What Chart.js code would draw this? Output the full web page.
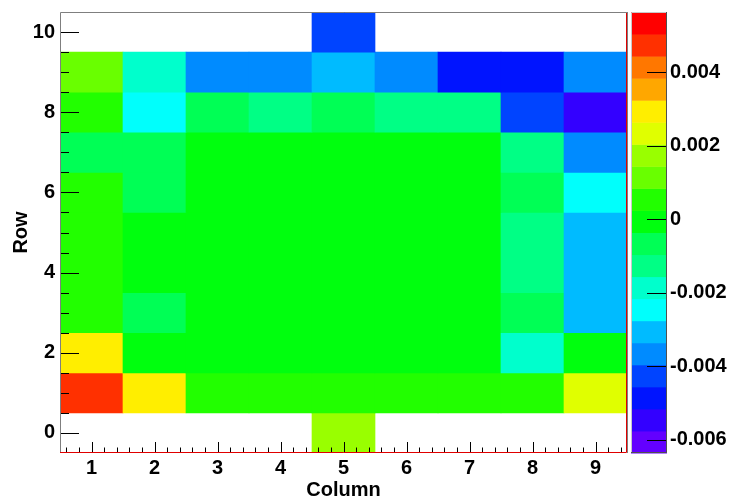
<!DOCTYPE html>
<html>
<head>
<meta charset="utf-8">
<script src="https://cdn.jsdelivr.net/npm/chart.js@4.4.1/dist/chart.umd.min.js"></script>
<style>
  html, body { margin: 0; padding: 0; background: #fff; }
  canvas { display: block; }
</style>
</head>
<body>
<canvas id="heat" width="729" height="500"></canvas>
<script>
// colonnes et lignes de la grille
const columns = [1, 2, 3, 4, 5, 6, 7, 8, 9];
const rows = [0, 1, 2, 3, 4, 5, 6, 7, 8, 9, 10];

// valeur de chaque case, une liste par ligne (null = case vide)
const row0  = [null, null, null, null, 0.0017, null, null, null, null];
const row1  = [0.0047, 0.0029, 0.0005, 0.0005, 0.0005, 0.0005, 0.0005, 0.0005, 0.0023];
const row2  = [0.0029, 0, 0, 0, 0, 0, 0, -0.0019, 0];
const row3  = [0.0005, -0.0007, 0, 0, 0, 0, 0, -0.0007, -0.0031];
const row4  = [0.0005, 0, 0, 0, 0, 0, 0, -0.0013, -0.0031];
const row5  = [0.0005, 0, 0, 0, 0, 0, 0, -0.0013, -0.0031];
const row6  = [0.0005, -0.0007, 0, 0, 0, 0, 0, -0.0007, -0.0025];
const row7  = [-0.0007, -0.0007, 0, 0, 0, 0, 0, -0.0013, -0.0037];
const row8  = [0.0005, -0.0025, -0.0007, -0.0013, -0.0007, -0.0013, -0.0013, -0.0043, -0.0055];
const row9  = [0.0011, -0.0019, -0.0037, -0.0037, -0.0031, -0.0037, -0.0049, -0.0049, -0.0037];
const row10 = [null, null, null, null, -0.0043, null, null, null, null];
const rowValues = [row0, row1, row2, row3, row4, row5, row6, row7, row8, row9, row10];

// graduations des axes
const xTicks = [1, 2, 3, 4, 5, 6, 7, 8, 9];
const yTicks = [0, 2, 4, 6, 8, 10];
const zTicks = [-0.006, -0.004, -0.002, 0, 0.002, 0.004];
const zMin = -0.00636;
const zMax = 0.00564;
const nLevels = 20;

// palette arc-en-ciel (violet -> rouge), 50 teintes dont on prend 20 niveaux
function levelColor(k) {
    const idx = Math.min(49, Math.floor((k + 0.99) * 50 / nLevels));
    const hue = 280 - (idx + 1) * 5.6;
    return 'hsl(' + hue + ', 100%, 50%)';
}
function colorFor(v) {
    let k = Math.floor(0.01 + (v - zMin) * nLevels / (zMax - zMin));
    k = Math.max(0, Math.min(nLevels - 1, k));
    return levelColor(k);
}

// une barre flottante par case non vide
const cells = [];
const cellColors = [];
rows.forEach((r, i) => {
    columns.forEach((c, j) => {
        const v = rowValues[i][j];
        if (v === null) return;
        cells.push({ x: c, y: [r - 0.5, r + 0.5] });
        cellColors.push(colorFor(v));
    });
});

const tickFont = { family: 'Liberation Sans, Arial, sans-serif', size: 20, weight: 'bold', lineHeight: 1 };
const titleFont = { family: 'Liberation Sans, Arial, sans-serif', size: 20, weight: 'bold', lineHeight: 1 };

// pas de marge automatique autour des axes verticaux
function noPad(s) {
    s.paddingTop = 0;
    s.paddingBottom = 0;
}

// cadre, petites graduations et barre de couleurs
const rootFrame = {
    id: 'rootFrame',
    afterDatasetsDraw(chart) {
        const { ctx, chartArea: a, scales: { x, y, z } } = chart;
        const px = v => Math.round(v) + 0.5;
        ctx.save();
        ctx.lineWidth = 1;

        // graduations en x (tous les 0.2)
        ctx.strokeStyle = '#000';
        ctx.beginPath();
        for (let i = 3; i <= 47; i++) {
            const xp = px(x.getPixelForValue(i / 5));
            const len = i % 5 === 0 ? 11 : 5.5;
            ctx.moveTo(xp, a.bottom);
            ctx.lineTo(xp, a.bottom - len);
        }
        // graduations en y (tous les 0.5)
        for (let i = 0; i <= 20; i++) {
            const v = i / 2;
            const yp = px(y.getPixelForValue(v));
            const len = v % 2 === 0 ? 19 : 9;
            ctx.moveTo(a.left, yp);
            ctx.lineTo(a.left + len, yp);
        }
        ctx.stroke();

        // cadre
        ctx.strokeStyle = '#7f7f7f';
        ctx.beginPath();
        ctx.moveTo(a.left + 0.5, a.bottom);
        ctx.lineTo(a.left + 0.5, a.top + 0.5);
        ctx.lineTo(a.right + 1, a.top + 0.5);
        ctx.moveTo(a.right + 0.5, a.top);
        ctx.lineTo(a.right + 0.5, a.bottom);
        ctx.stroke();
        ctx.strokeStyle = '#e00000';
        ctx.beginPath();
        ctx.moveTo(a.left, a.bottom - 0.5);
        ctx.lineTo(a.right - 0.5, a.bottom - 0.5);
        ctx.lineTo(a.right - 0.5, a.top + 1);
        ctx.stroke();

        // barre de couleurs
        const left = z.left + 4, right = z.left + 40;
        const dz = (zMax - zMin) / nLevels;
        for (let k = 0; k < nLevels; k++) {
            const y1 = z.getPixelForValue(zMin + k * dz);
            const y2 = z.getPixelForValue(zMin + (k + 1) * dz);
            ctx.fillStyle = levelColor(k);
            ctx.fillRect(left, y2, right - left, y1 - y2 + 0.5);
        }
        ctx.strokeStyle = '#c8c8c8';
        ctx.beginPath();
        ctx.moveTo(left + 0.5, z.bottom);
        ctx.lineTo(left + 0.5, z.top + 0.5);
        ctx.lineTo(right, z.top + 0.5);
        ctx.stroke();
        ctx.strokeStyle = '#505050';
        ctx.beginPath();
        ctx.moveTo(right - 0.5, z.top);
        ctx.lineTo(right - 0.5, z.bottom - 0.5);
        ctx.lineTo(left, z.bottom - 0.5);
        ctx.stroke();

        ctx.strokeStyle = '#000';
        ctx.beginPath();
        zTicks.forEach(t => {
            const yp = px(z.getPixelForValue(t));
            ctx.moveTo(right - 1, yp);
            ctx.lineTo(right - 20, yp);
        });
        ctx.stroke();
        ctx.restore();
    }
};

new Chart(document.getElementById('heat').getContext('2d'), {
    type: 'bar',
    data: {
        datasets: [{
            data: cells,
            backgroundColor: cellColors,
            borderWidth: 0,
            barPercentage: 1,
            categoryPercentage: 1
        }]
    },
    options: {
        responsive: false,
        animation: false,
        devicePixelRatio: 1,
        layout: { padding: { top: 12, right: 0, bottom: 0, left: 0 } },
        plugins: { legend: { display: false }, tooltip: { enabled: false } },
        scales: {
            x: {
                type: 'linear', min: 0.5, max: 9.5, offset: false,
                afterBuildTicks: s => { s.ticks = xTicks.map(v => ({ value: v })); },
                afterFit: s => { s.height = 47; s.paddingLeft = 0; s.paddingRight = 0; },
                grid: { display: false, drawTicks: false, offset: false },
                border: { display: false },
                ticks: { font: tickFont, color: '#000', padding: 5, maxRotation: 0, autoSkip: false, callback: v => String(v) },
                title: { display: true, text: 'Column', font: titleFont, color: '#000', padding: { top: 0, bottom: 0 } }
            },
            y: {
                type: 'linear', min: -0.5, max: 10.5, beginAtZero: false,
                afterBuildTicks: s => { s.ticks = yTicks.map(v => ({ value: v })); },
                afterFit: s => { s.width = 60; noPad(s); },
                grid: { display: false, drawTicks: false },
                border: { display: false },
                ticks: { font: tickFont, color: '#000', padding: 5, callback: v => String(v) },
                title: { display: true, text: 'Row', font: titleFont, color: '#000', padding: { top: 11.5, bottom: 0 } }
            },
            z: {
                type: 'linear', axis: 'y', position: 'right', min: zMin, max: zMax,
                afterBuildTicks: s => { s.ticks = zTicks.map(v => ({ value: v })); },
                afterFit: s => { s.width = 102; noPad(s); },
                grid: { display: false, drawTicks: false },
                border: { display: false },
                ticks: { font: tickFont, color: '#000', padding: 43, callback: v => v === 0 ? '0' : v.toFixed(3) }
            }
        }
    },
    plugins: [rootFrame]
});
</script>
</body>
</html>
